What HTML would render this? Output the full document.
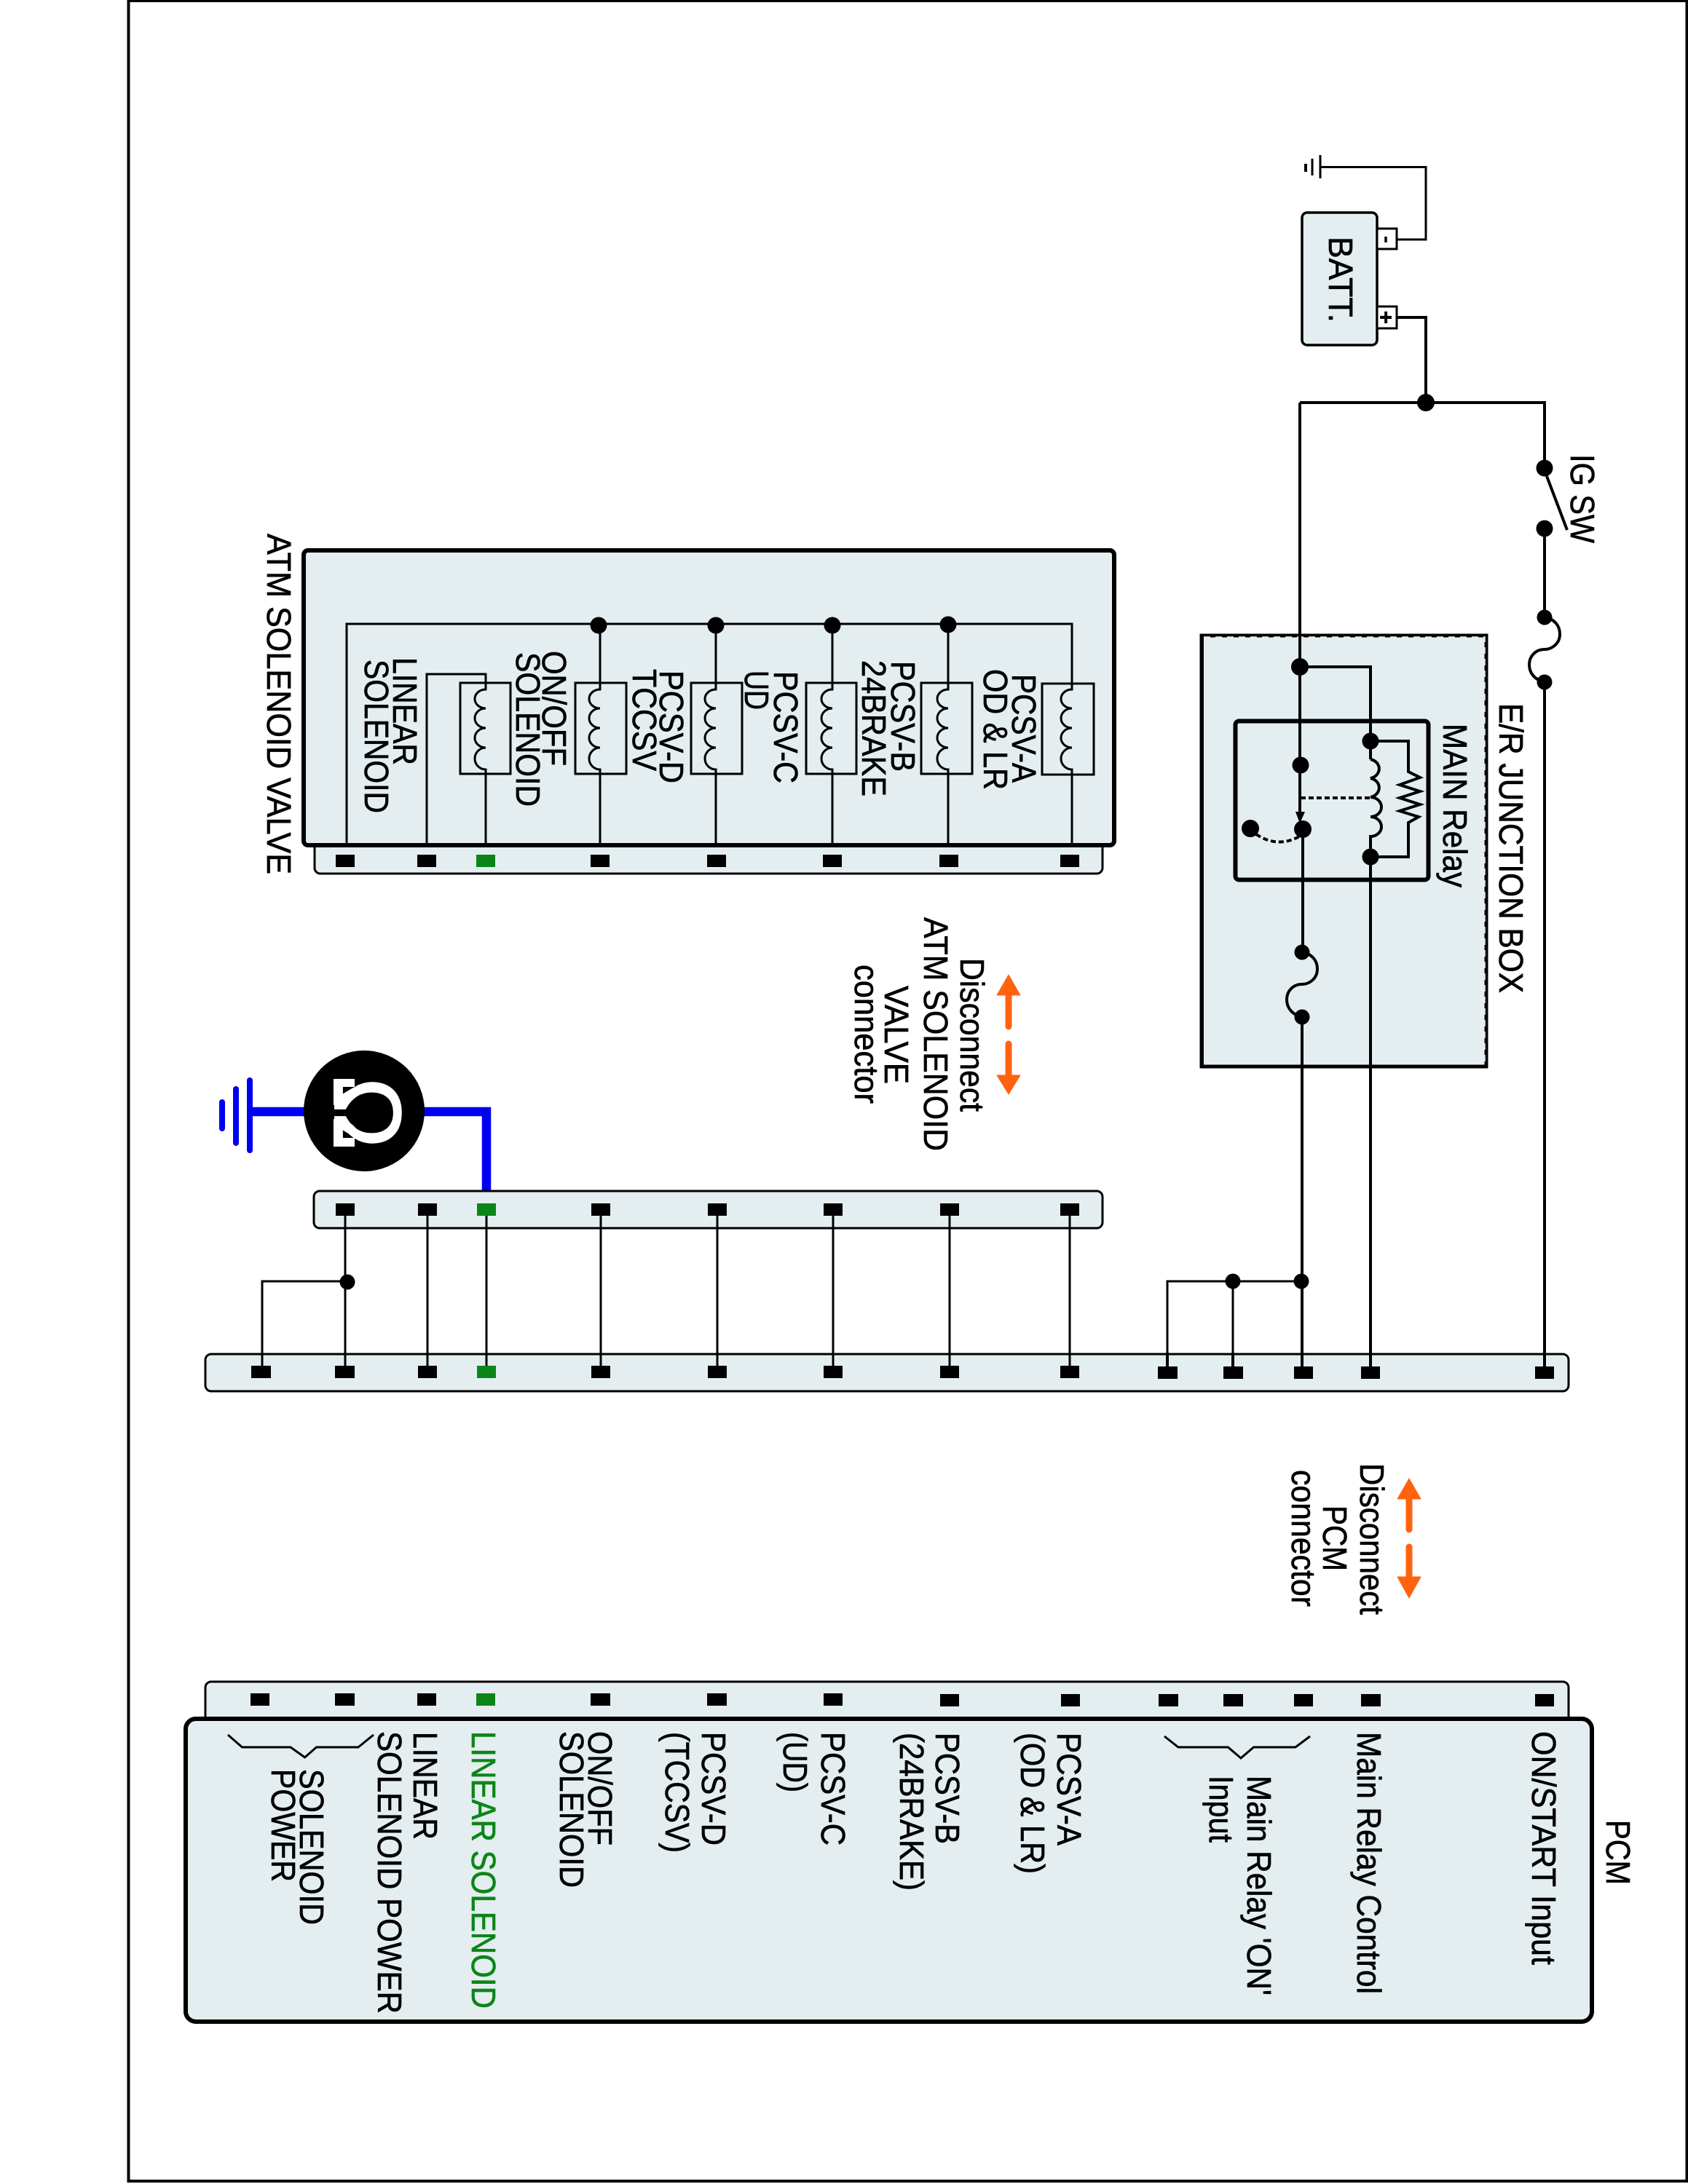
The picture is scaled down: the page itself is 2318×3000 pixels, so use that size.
<!DOCTYPE html>
<html lang="en">
<head>
<meta charset="utf-8">
<title>Linear Solenoid Circuit Diagram</title>
<style>
html,body{margin:0;padding:0;background:#fff}
svg{display:block}
text{font-family:"Liberation Sans",Arial,sans-serif;font-size:46px;fill:#000;stroke:#000;stroke-width:.7px}
.w{fill:none;stroke:#000;stroke-width:4}
.t{fill:none;stroke:#000;stroke-width:3}
.b{fill:#e4eef0;stroke:#000}
.g{fill:#0c8518}
</style>
</head>
<body>
<svg xmlns="http://www.w3.org/2000/svg" width="2318" height="3000" viewBox="0 0 2318 3000">
<rect width="2318" height="3000" fill="#fff"/>
<rect x="176.500" y="1" width="2140" height="2995" fill="none" stroke="#000" stroke-width="4"/>

<!-- Battery & ground -->
<path class="t" d="M1813 229.500H1958V329H1918"/>
<path class="t" d="M1813 213V245M1802 218V241" stroke-width="4"/>
<path class="w" d="M1793 225V236"/>
<rect class="b" x="1788" y="292" width="103" height="182" rx="7" stroke-width="3.500"/>
<rect x="1891" y="314" width="27" height="28" fill="#fff" stroke="#000" stroke-width="3"/>
<rect x="1891" y="421" width="27" height="30" fill="#fff" stroke="#000" stroke-width="3"/>
<path class="w" d="M1918 436H1958V553" />
<path d="M1903 325V333" stroke="#000" stroke-width="3.500"/>
<text transform="translate(1893,427) rotate(90)" style="font-size:30px;font-weight:bold" textLength="18" lengthAdjust="spacingAndGlyphs">+</text>
<path class="w" d="M1785 553H2121V643"/>
<circle cx="1958" cy="553" r="12"/>
<circle cx="2121" cy="643" r="11.500"/>
<path class="w" d="M2124 654L2152 728"/>
<circle cx="2121" cy="726" r="11.500"/>
<path class="w" d="M2121 726V848M2121 937V1876"/>
<path class="w" d="M2121 848C2135 850 2142 860 2142 871C2142 885 2130 892 2121 892C2108 892 2100 902 2100 913C2100 925 2108 934 2121 937" stroke-width="3.500"/>
<circle cx="2121" cy="848" r="10.500"/>
<circle cx="2121" cy="937" r="10.500"/>

<!-- E/R Junction box -->
<rect class="b" x="1650" y="873" width="391" height="592" stroke-width="5"/>
<rect x="1649" y="872" width="4" height="594" fill="#000"/>
<path d="M1653 875H2039V1463" fill="none" stroke="#e4eef0" stroke-width="1.500" stroke-dasharray="9 7"/>
<path class="w" d="M1785 553V1120"/>
<path class="w" d="M1785 916H1882V1043"/>
<rect x="1696.500" y="990.500" width="265" height="218" rx="5" fill="none" stroke="#000" stroke-width="6"/>
<circle cx="1785" cy="916" r="12"/>
<circle cx="1786" cy="1051" r="11.500"/>
<circle cx="1882" cy="1018" r="11.500"/>
<path class="w" d="M1882 1018H1934V1060L1950 1068L1922 1078L1950 1087L1922 1096L1950 1105L1922 1114L1948 1122L1934 1130V1177H1882" stroke-width="3.500"/>
<path class="w" d="M1882 1043A15 13.300 0 0 1 1882 1069A15 13.300 0 0 1 1882 1095A15 13.500 0 0 1 1882 1122A15 13.500 0 0 1 1882 1149V1177V1876"/>
<circle cx="1882" cy="1177" r="11.500"/>
<path d="M1786 1096H1885" fill="none" stroke="#000" stroke-width="4" stroke-dasharray="7 4"/>
<path d="M1779 1115H1792L1785 1131Z"/>
<circle cx="1789" cy="1139" r="12"/>
<circle cx="1717" cy="1138" r="12"/>
<path d="M1725 1146Q1755 1166 1786 1148" fill="none" stroke="#000" stroke-width="4" stroke-dasharray="7 4"/>
<path class="w" d="M1789 1139V1308M1788 1397V1876"/>
<g transform="translate(-333,460)">
<path class="w" d="M2121 848C2135 850 2142 860 2142 871C2142 885 2130 892 2121 892C2108 892 2100 902 2100 913C2100 925 2108 934 2121 937" stroke-width="3.500"/>
</g>
<circle cx="1788" cy="1308" r="10.500"/>
<circle cx="1788" cy="1397" r="10.500"/>

<!-- ATM solenoid valve -->
<rect class="b" x="432" y="1150" width="1082" height="50" rx="8" stroke-width="3"/>
<rect class="b" x="417" y="756" width="1113" height="405" rx="6" stroke-width="6"/>
<path class="t" d="M476 1161V857H1472V939"/>
<path class="t" d="M586 1161V926H667V947"/>
<g fill="none" stroke="#000" stroke-width="3">
<rect x="632" y="938" width="69" height="125"/>
<rect x="790" y="938" width="70" height="125"/>
<rect x="949" y="938" width="70" height="125"/>
<rect x="1107" y="938" width="69" height="125"/>
<rect x="1265" y="938" width="70" height="125"/>
<rect x="1431" y="939" width="71" height="125"/>
</g>
<g fill="none" stroke="#000" stroke-width="3">
<path d="M667 926V947A15 13 0 0 0 667 973A15 13.500 0 0 0 667 1000A15 13.500 0 0 0 667 1027A15 15 0 0 0 667 1057V1161"/>
<path d="M824 857V947A15 13 0 0 0 824 973A15 13.500 0 0 0 824 1000A15 13.500 0 0 0 824 1027A15 15 0 0 0 824 1057V1161"/>
<path d="M983 857V947A15 13 0 0 0 983 973A15 13.500 0 0 0 983 1000A15 13.500 0 0 0 983 1027A15 15 0 0 0 983 1057V1161"/>
<path d="M1143 857V947A15 13 0 0 0 1143 973A15 13.500 0 0 0 1143 1000A15 13.500 0 0 0 1143 1027A15 15 0 0 0 1143 1057V1161"/>
<path d="M1302 857V947A15 13 0 0 0 1302 973A15 13.500 0 0 0 1302 1000A15 13.500 0 0 0 1302 1027A15 15 0 0 0 1302 1057V1161"/>
<path d="M1472 939V947A15 13 0 0 0 1472 973A15 13.500 0 0 0 1472 1000A15 13.500 0 0 0 1472 1027A15 15 0 0 0 1472 1057V1161"/>
</g>
<circle cx="822" cy="859" r="11.500"/>
<circle cx="983" cy="859" r="11.500"/>
<circle cx="1143" cy="859" r="11.500"/>
<circle cx="1302" cy="858" r="11.500"/>
<g>
<rect x="461" y="1174" width="26" height="17"/>
<rect x="573" y="1174" width="26" height="17"/>
<rect class="g" x="654" y="1174" width="26" height="17"/>
<rect x="811" y="1174" width="26" height="17"/>
<rect x="971" y="1174" width="26" height="17"/>
<rect x="1130" y="1174" width="26" height="17"/>
<rect x="1290" y="1174" width="26" height="17"/>
<rect x="1456" y="1174" width="26" height="17"/>
</g>

<!-- Ohmmeter & ground -->
<path d="M668 1653V1527H340" fill="none" stroke="#0000f0" stroke-width="12.500"/>
<path d="M343 1484V1580" stroke="#0000f0" stroke-width="8" stroke-linecap="round"/>
<path d="M324 1496V1570" stroke="#0000f0" stroke-width="8" stroke-linecap="round"/>
<path d="M305 1514V1550" stroke="#0000f0" stroke-width="8" stroke-linecap="round"/>
<circle cx="493" cy="1526" r="83" transform="translate(7,0)"/>
<text transform="translate(460,1528.500) rotate(90)" text-anchor="middle" style="font-size:130px;fill:#fff;stroke:#fff;stroke-width:2px">Ω</text>
<path fill="#fff" d="M458 1482H487V1493H470V1503L485 1494L489 1505Q478 1518 462 1518H458Z"/>
<path fill="#fff" d="M458 1575H487V1563H470V1552L485 1561L489 1550Q478 1537 462 1537H458Z"/>

<!-- ATM mating connector -->
<rect class="b" x="431" y="1636" width="1083" height="51" rx="8" stroke-width="3"/>
<g fill="none" stroke="#000" stroke-width="3">
<path d="M474 1660V1880M587 1660V1880M668 1660V1880M825 1660V1880M985 1660V1880M1144 1660V1880M1304 1660V1880M1469 1660V1880"/>
</g>
<path class="t" d="M477 1760H360V1880"/>
<path class="t" d="M1787 1760H1603V1880M1693 1760V1880"/>

<!-- Bus connector -->
<rect class="b" x="282" y="1860" width="1872" height="51" rx="8" stroke-width="3"/>
<path fill="none" stroke="#000" stroke-width="3" d="M360 1858V1880M474 1858V1880M587 1858V1880M668 1858V1880M825 1858V1880M985 1858V1880M1144 1858V1880M1304 1858V1880M1469 1858V1880"/>
<path fill="none" stroke="#000" stroke-width="4" d="M1603 1858V1880M1693 1858V1880M1788 1858V1880M1882 1858V1880M2121 1858V1880"/>
<circle cx="477" cy="1761" r="10.500"/>
<circle cx="1693" cy="1760" r="10.500"/>
<circle cx="1787" cy="1760" r="10.500"/>
<g>
<rect x="461" y="1653" width="26" height="17"/>
<rect x="574" y="1653" width="26" height="17"/>
<rect class="g" x="655" y="1653" width="26" height="17"/>
<rect x="812" y="1653" width="26" height="17"/>
<rect x="972" y="1653" width="26" height="17"/>
<rect x="1131" y="1653" width="26" height="17"/>
<rect x="1291" y="1653" width="26" height="17"/>
<rect x="1456" y="1653" width="26" height="17"/>

<rect x="345" y="1876" width="27" height="17"/>
<rect x="460" y="1876" width="27" height="17"/>
<rect x="574" y="1876" width="26" height="17"/>
<rect class="g" x="655" y="1876" width="26" height="17"/>
<rect x="812" y="1876" width="26" height="17"/>
<rect x="972" y="1876" width="26" height="17"/>
<rect x="1131" y="1876" width="26" height="17"/>
<rect x="1291" y="1876" width="26" height="17"/>
<rect x="1456" y="1876" width="26" height="17"/>
<rect x="1590" y="1877" width="27" height="17"/>
<rect x="1680" y="1877" width="27" height="17"/>
<rect x="1777" y="1877" width="26" height="17"/>
<rect x="1869" y="1877" width="26" height="17"/>
<rect x="2108" y="1877" width="26" height="17"/>
</g>

<!-- PCM -->
<rect class="b" x="282" y="2310" width="1872" height="70" rx="8" stroke-width="3"/>
<rect class="b" x="255" y="2361" width="1931" height="416" rx="14" stroke-width="6"/>
<g>
<rect x="344" y="2326" width="26" height="17"/>
<rect x="460" y="2326" width="27" height="17"/>
<rect x="573" y="2326" width="26" height="17"/>
<rect class="g" x="654" y="2326" width="26" height="17"/>
<rect x="811" y="2326" width="27" height="17"/>
<rect x="971" y="2326" width="27" height="17"/>
<rect x="1131" y="2326" width="26" height="17"/>
<rect x="1291" y="2327" width="26" height="17"/>
<rect x="1457" y="2327" width="26" height="17"/>
<rect x="1591" y="2327" width="27" height="17"/>
<rect x="1680" y="2327" width="27" height="17"/>
<rect x="1777" y="2327" width="26" height="17"/>
<rect x="1869" y="2327" width="27" height="17"/>
<rect x="2108" y="2327" width="26" height="17"/>
</g>
<path class="t" d="M313 2383L332.500 2400H399L418.600 2414L434.500 2400H492L513 2383" stroke-width="2.500"/>
<path class="t" d="M1599 2385L1618 2400H1686.400L1704 2415L1721.500 2400H1779L1799 2385" stroke-width="2.500"/>

<!-- Orange arrows -->
<g fill="#ff6310" stroke="#ff6310" stroke-linejoin="round" stroke-width="1">
<path d="M1385 1339L1369 1367H1401Z"/>
<path d="M1385 1503L1369 1477H1401Z"/>
<path d="M1935 2031L1919 2059H1951Z"/>
<path d="M1935 2195L1919 2166H1951Z"/>
</g>
<g stroke="#ff6310" stroke-width="9" stroke-linecap="round" fill="none">
<path d="M1385 1365V1410M1385 1434V1478"/>
<path d="M1935 2057V2101M1935 2125V2168"/>
</g>

<!-- Labels -->
<text transform="translate(2157,624) rotate(90)" textLength="122" lengthAdjust="spacingAndGlyphs">IG SW</text>
<text transform="translate(1825,325) rotate(90)" textLength="118" lengthAdjust="spacingAndGlyphs">BATT.</text>
<text transform="translate(1982,994) rotate(90)" textLength="225" lengthAdjust="spacingAndGlyphs">MAIN Relay</text>
<text transform="translate(2059,966) rotate(90)" textLength="398" lengthAdjust="spacingAndGlyphs">E/R JUNCTION BOX</text>
<text transform="translate(367,733) rotate(90)" textLength="468" lengthAdjust="spacingAndGlyphs">ATM SOLENOID VALVE</text>
<text transform="translate(1390,926) rotate(90)" textLength="149" lengthAdjust="spacingAndGlyphs">PCSV-A</text>
<text transform="translate(1351,919) rotate(90)" textLength="166" lengthAdjust="spacingAndGlyphs">OD &amp; LR</text>
<text transform="translate(1224,908) rotate(90)" textLength="152" lengthAdjust="spacingAndGlyphs">PCSV-B</text>
<text transform="translate(1184,907) rotate(90)" textLength="187" lengthAdjust="spacingAndGlyphs">24BRAKE</text>
<text transform="translate(1063,922) rotate(90)" textLength="154" lengthAdjust="spacingAndGlyphs">PCSV-C</text>
<text transform="translate(1023,921) rotate(90)" textLength="54" lengthAdjust="spacingAndGlyphs">UD</text>
<text transform="translate(906,921) rotate(90)" textLength="155" lengthAdjust="spacingAndGlyphs">PCSV-D</text>
<text transform="translate(869,919) rotate(90)" textLength="140" lengthAdjust="spacingAndGlyphs">TCCSV</text>
<text transform="translate(745,894) rotate(90)" textLength="158" lengthAdjust="spacingAndGlyphs">ON/OFF</text>
<text transform="translate(709,896) rotate(90)" textLength="212" lengthAdjust="spacingAndGlyphs">SOLENOID</text>
<text transform="translate(540,903) rotate(90)" textLength="148" lengthAdjust="spacingAndGlyphs">LINEAR</text>
<text transform="translate(501,906) rotate(90)" textLength="211" lengthAdjust="spacingAndGlyphs">SOLENOID</text>

<text transform="translate(1319,1316) rotate(90)" textLength="211" lengthAdjust="spacingAndGlyphs">Disconnect</text>
<text transform="translate(1269,1260) rotate(90)" textLength="321" lengthAdjust="spacingAndGlyphs">ATM SOLENOID</text>
<text transform="translate(1215,1354) rotate(90)" textLength="135" lengthAdjust="spacingAndGlyphs">VALVE</text>
<text transform="translate(1174,1325) rotate(90)" textLength="191" lengthAdjust="spacingAndGlyphs">connector</text>

<text transform="translate(1868,2010) rotate(90)" textLength="208" lengthAdjust="spacingAndGlyphs">Disconnect</text>
<text transform="translate(1817,2068) rotate(90)" textLength="90" lengthAdjust="spacingAndGlyphs">PCM</text>
<text transform="translate(1774,2019) rotate(90)" textLength="188" lengthAdjust="spacingAndGlyphs">connector</text>

<text transform="translate(2206,2500) rotate(90)" textLength="89" lengthAdjust="spacingAndGlyphs">PCM</text>
<text transform="translate(2104,2378) rotate(90)" textLength="321" lengthAdjust="spacingAndGlyphs">ON/START Input</text>
<text transform="translate(1864,2379) rotate(90)" textLength="360" lengthAdjust="spacingAndGlyphs">Main Relay Control</text>
<text transform="translate(1713,2439) rotate(90)" textLength="302" lengthAdjust="spacingAndGlyphs">Main Relay 'ON'</text>
<text transform="translate(1661,2439) rotate(90)" textLength="92" lengthAdjust="spacingAndGlyphs">Input</text>
<text transform="translate(1452,2380) rotate(90)" textLength="155" lengthAdjust="spacingAndGlyphs">PCSV-A</text>
<text transform="translate(1402,2380) rotate(90)" textLength="194" lengthAdjust="spacingAndGlyphs">(OD &amp; LR)</text>
<text transform="translate(1285,2380) rotate(90)" textLength="153" lengthAdjust="spacingAndGlyphs">PCSV-B</text>
<text transform="translate(1236,2380) rotate(90)" textLength="217" lengthAdjust="spacingAndGlyphs">(24BRAKE)</text>
<text transform="translate(1128,2379) rotate(90)" textLength="156" lengthAdjust="spacingAndGlyphs">PCSV-C</text>
<text transform="translate(1076,2379) rotate(90)" textLength="83" lengthAdjust="spacingAndGlyphs">(UD)</text>
<text transform="translate(964,2379) rotate(90)" textLength="156" lengthAdjust="spacingAndGlyphs">PCSV-D</text>
<text transform="translate(914,2379) rotate(90)" textLength="166" lengthAdjust="spacingAndGlyphs">(TCCSV)</text>
<text transform="translate(808,2378) rotate(90)" textLength="157" lengthAdjust="spacingAndGlyphs">ON/OFF</text>
<text transform="translate(769,2378) rotate(90)" textLength="215" lengthAdjust="spacingAndGlyphs">SOLENOID</text>
<text transform="translate(648,2378) rotate(90)" textLength="381" lengthAdjust="spacingAndGlyphs" style="fill:#0c8518;stroke:#0c8518">LINEAR SOLENOID</text>
<text transform="translate(568,2379) rotate(90)" textLength="148" lengthAdjust="spacingAndGlyphs">LINEAR</text>
<text transform="translate(519,2378) rotate(90)" textLength="388" lengthAdjust="spacingAndGlyphs">SOLENOID POWER</text>
<text transform="translate(412,2430) rotate(90)" textLength="214" lengthAdjust="spacingAndGlyphs">SOLENOID</text>
<text transform="translate(373,2430) rotate(90)" textLength="155" lengthAdjust="spacingAndGlyphs">POWER</text>
</svg>
</body>
</html>
